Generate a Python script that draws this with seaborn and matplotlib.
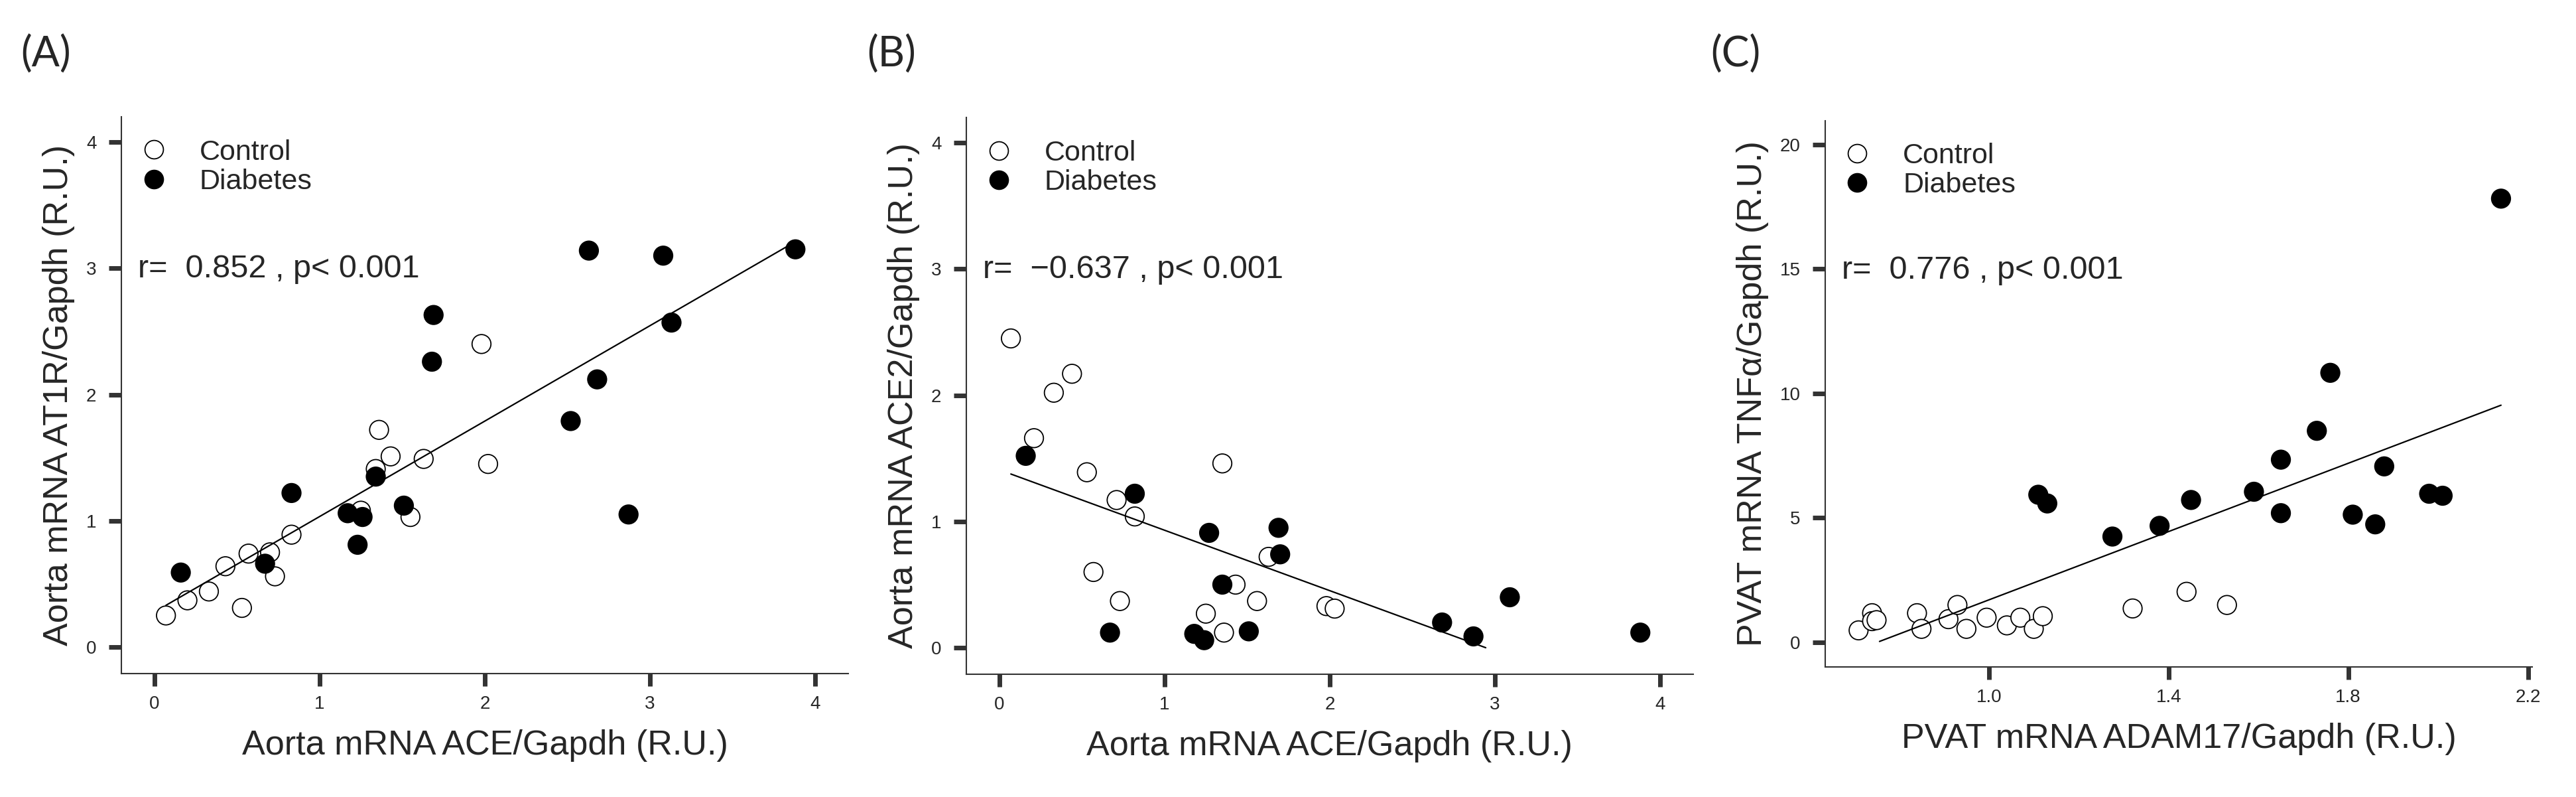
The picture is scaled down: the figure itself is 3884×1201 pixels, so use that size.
import numpy as np
import pandas as pd
import matplotlib
matplotlib.use("Agg")
import matplotlib.pyplot as plt
from matplotlib.lines import Line2D
import seaborn as sns

# Panel A: aorta ACE vs AT1R
a_ctrl_x = [0.07, 0.20, 0.33, 0.43, 0.53, 0.57, 0.70, 0.73, 0.83, 1.25, 1.34, 1.36, 1.43, 1.55, 1.63, 1.98, 2.02]
a_ctrl_y = [0.25, 0.37, 0.44, 0.64, 0.31, 0.74, 0.75, 0.56, 0.89, 1.08, 1.41, 1.72, 1.51, 1.03, 1.49, 2.40, 1.45]
a_diab_x = [0.16, 0.67, 0.83, 1.17, 1.23, 1.26, 1.34, 1.51, 1.68, 1.69, 2.52, 2.63, 2.68, 2.87, 3.08, 3.13, 3.88]
a_diab_y = [0.59, 0.66, 1.22, 1.06, 0.81, 1.03, 1.35, 1.12, 2.26, 2.63, 1.79, 3.14, 2.12, 1.05, 3.10, 2.57, 3.15]

# Panel B: aorta ACE vs ACE2
b_ctrl_x = [0.07, 0.21, 0.33, 0.44, 0.53, 0.57, 0.71, 0.73, 0.82, 1.25, 1.35, 1.36, 1.43, 1.56, 1.63, 1.98, 2.03]
b_ctrl_y = [2.45, 1.66, 2.02, 2.17, 1.39, 0.60, 1.17, 0.37, 1.04, 0.27, 1.46, 0.12, 0.50, 0.37, 0.72, 0.33, 0.31]
b_diab_x = [0.16, 0.67, 0.82, 1.18, 1.24, 1.27, 1.35, 1.51, 1.69, 1.70, 2.68, 2.87, 3.09, 3.88]
b_diab_y = [1.52, 0.12, 1.22, 0.11, 0.06, 0.91, 0.50, 0.13, 0.95, 0.74, 0.20, 0.09, 0.40, 0.12]

# Panel C: PVAT ADAM17 vs TNFa
c_ctrl_x = [0.71, 0.74, 0.74, 0.75, 0.84, 0.85, 0.91, 0.93, 0.95, 0.995, 1.04, 1.07, 1.10, 1.12, 1.32, 1.44, 1.53]
c_ctrl_y = [0.47, 1.16, 0.84, 0.88, 1.16, 0.53, 0.92, 1.49, 0.53, 0.98, 0.67, 0.98, 0.53, 1.04, 1.35, 2.02, 1.49]
c_diab_x = [1.11, 1.13, 1.275, 1.38, 1.45, 1.59, 1.65, 1.65, 1.73, 1.76, 1.81, 1.86, 1.88, 1.98, 2.01, 2.14]
c_diab_y = [5.92, 5.57, 4.24, 4.67, 5.71, 6.04, 5.18, 7.33, 8.49, 10.82, 5.12, 4.73, 7.06, 5.96, 5.88, 17.82]

panel_letters = ["(A)", "(B)", "(C)"]
x_labels = ["Aorta mRNA ACE/Gapdh (R.U.)", "Aorta mRNA ACE/Gapdh (R.U.)", "PVAT mRNA ADAM17/Gapdh (R.U.)"]
y_labels = ["Aorta mRNA AT1R/Gapdh (R.U.)", "Aorta mRNA ACE2/Gapdh (R.U.)", "PVAT mRNA TNF\u03b1/Gapdh (R.U.)"]
stat_texts = ["r=  0.852 , p< 0.001", "r=  \u22120.637 , p< 0.001", "r=  0.776 , p< 0.001"]
x_ticks = [[0, 1, 2, 3, 4], [0, 1, 2, 3, 4], [1.0, 1.4, 1.8, 2.2]]
x_ticklabels = [["0", "1", "2", "3", "4"], ["0", "1", "2", "3", "4"], ["1.0", "1.4", "1.8", "2.2"]]
y_ticks = [[0, 1, 2, 3, 4], [0, 1, 2, 3, 4], [0, 5, 10, 15, 20]]

sns.set_style("ticks")
plt.rcParams["font.family"] = ["Liberation Sans", "DejaVu Sans"]

fig = plt.figure(figsize=(38.84, 12.01), dpi=100)
rects = [[0.0471, 0.1549, 0.2822, 0.6986],
         [0.3751, 0.1540, 0.2822, 0.6986],
         [0.7086, 0.1632, 0.2745, 0.6853]]
xlims = [(-0.2, 4.2), (-0.2, 4.2), (0.636, 2.21)]
ylims = [(-0.21, 4.2), (-0.21, 4.2), (-1.0, 20.95)]
letter_x = [0.008, 0.3365, 0.664]

panels = [(a_ctrl_x, a_ctrl_y, a_diab_x, a_diab_y),
          (b_ctrl_x, b_ctrl_y, b_diab_x, b_diab_y),
          (c_ctrl_x, c_ctrl_y, c_diab_x, c_diab_y)]

for i, (cx, cy, dx, dy) in enumerate(panels):
    ax = fig.add_axes(rects[i])
    df = pd.DataFrame({
        "x": cx + dx,
        "y": cy + dy,
        "group": ["Control"] * len(cx) + ["Diabetes"] * len(dx),
    })
    sns.scatterplot(data=df, x="x", y="y", hue="group",
                    palette={"Control": "white", "Diabetes": "black"},
                    edgecolor="black", linewidth=1.3, s=420, legend=False,
                    zorder=2, ax=ax)

    # least-squares line over both groups, cut where it drops below zero
    k, b = np.polyfit(df["x"], df["y"], 1)
    xs = np.linspace(df["x"].min(), df["x"].max(), 400)
    ys = k * xs + b
    keep = ys >= 0
    ax.plot(xs[keep], ys[keep], color="black", lw=1.6, zorder=3)

    ax.set_xlim(*xlims[i])
    ax.set_ylim(*ylims[i])
    ax.set_xticks(x_ticks[i])
    ax.set_xticklabels(x_ticklabels[i])
    ax.set_yticks(y_ticks[i])
    ax.set_xlabel(x_labels[i], fontsize=37.5, labelpad=18)
    ax.set_ylabel(y_labels[i], fontsize=37.5, labelpad=12)
    ax.tick_params(axis="both", length=14, width=5, color="#333333", labelsize=20)
    ax.tick_params(axis="x", pad=10)
    ax.tick_params(axis="y", pad=13)
    for side in ["top", "right"]:
        ax.spines[side].set_visible(False)
    for side in ["left", "bottom"]:
        ax.spines[side].set_linewidth(1.5)
        ax.spines[side].set_color("#333333")

    handles = [
        Line2D([], [], marker="o", ls="", markersize=20, markerfacecolor="white",
               markeredgecolor="black", markeredgewidth=1.3, label="Control"),
        Line2D([], [], marker="o", ls="", markersize=20, markerfacecolor="black",
               markeredgecolor="black", markeredgewidth=1.3, label="Diabetes"),
    ]
    ax.legend(handles=handles, loc="upper left", bbox_to_anchor=(0.025, 0.96),
              frameon=False, fontsize=31, borderpad=0, borderaxespad=0,
              handlelength=1.0, handletextpad=1.1, labelspacing=0.1)

    ax.text(0.023, 0.726, stat_texts[i], transform=ax.transAxes,
            fontsize=35, ha="left", va="center")

    fig.text(letter_x[i], 0.932, panel_letters[i], fontsize=45,
             family=["Lato", "DejaVu Sans"], ha="left", va="center")

fig.savefig("out.png", dpi=100)
